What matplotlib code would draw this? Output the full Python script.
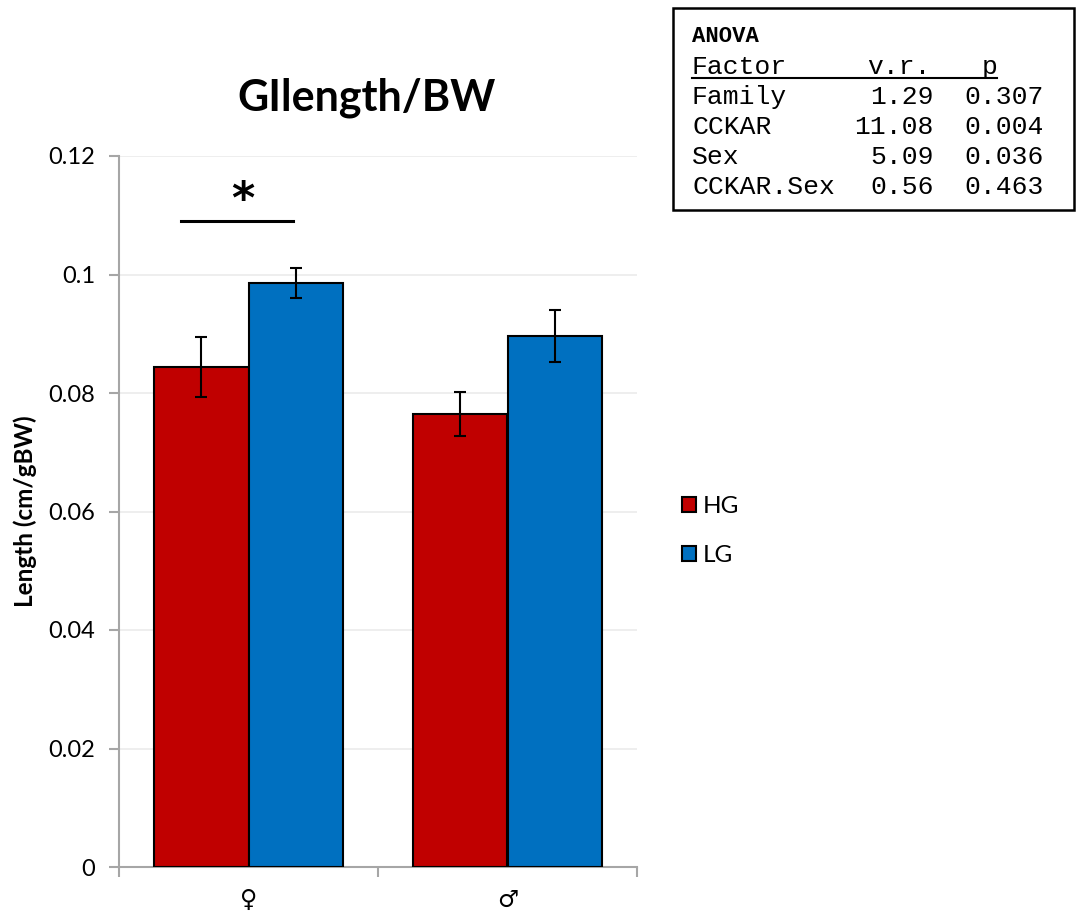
import matplotlib
matplotlib.use('Agg')
import matplotlib.pyplot as plt
from matplotlib.patches import Rectangle, Patch
import numpy as np

# Chart data
sexes = ['♀', '♂']
groups = ['HG', 'LG']
hg_mean = [0.0844, 0.0765]
hg_err = [0.0051, 0.0037]
lg_mean = [0.0986, 0.0896]
lg_err = [0.0025, 0.0044]
y_ticks = [0, 0.02, 0.04, 0.06, 0.08, 0.1, 0.12]
y_tick_labels = ['0', '0.02', '0.04', '0.06', '0.08', '0.1', '0.12']

# ANOVA table
anova_factors = ['Family', 'CCKAR', 'Sex', 'CCKAR.Sex']
anova_vr = ['1.29', '11.08', '5.09', '0.56']
anova_p = ['0.307', '0.004', '0.036', '0.463']

HG_COLOR = '#C00000'
LG_COLOR = '#0070C0'
W, H = 1076, 915
SANS = ['Lato', 'DejaVu Sans']
MONO = 'Liberation Mono'


def fx(px):
    return px / W


def fy(py):
    return 1 - py / H


fig = plt.figure(figsize=(W / 100, H / 100), dpi=100)
ax = fig.add_axes([fx(119), fy(867), fx(637) - fx(119), fy(156) - fy(867)])

x = np.arange(len(sexes)) + 0.5
bw = 0.365
err_kw = dict(ecolor='black', elinewidth=1.5, capsize=4, capthick=1.5)
ax.bar(x - bw / 2, hg_mean, bw, yerr=hg_err, color=HG_COLOR, edgecolor='black',
       linewidth=1.5, error_kw=err_kw, zorder=3, label=groups[0])
ax.bar(x + bw / 2, lg_mean, bw, yerr=lg_err, color=LG_COLOR, edgecolor='black',
       linewidth=1.5, error_kw=err_kw, zorder=3, label=groups[1])

ax.set_xlim(0, len(sexes))
ax.set_ylim(0, 0.12)
ax.set_yticks(y_ticks)
ax.set_yticklabels(y_tick_labels, family=SANS, fontsize=17)
ax.set_xticks(np.arange(len(sexes) + 1))
ax.set_xticklabels([])
ax.set_xticks(x, minor=True)
ax.set_xticklabels(sexes, minor=True, family=['DejaVu Sans'], fontsize=17)
ax.tick_params(axis='x', which='minor', length=0, pad=15)
ax.tick_params(axis='x', which='major', length=7, color='#a6a6a6', width=1.5)
ax.tick_params(axis='y', length=7, color='#a6a6a6', width=1.5, pad=10)

ax.grid(axis='y', color='#ebebeb', linewidth=1.2, zorder=0)
ax.set_axisbelow(True)
for s in ['top', 'right']:
    ax.spines[s].set_visible(False)
for s in ['left', 'bottom']:
    ax.spines[s].set_color('#a6a6a6')
    ax.spines[s].set_linewidth(1.5)

ax.set_ylabel('Length (cm/gBW)', family=SANS, fontsize=17.5, fontweight='bold', labelpad=8)
fig.text(fx(367), fy(98), 'GIlength/BW', family=SANS, fontsize=31, fontweight='bold',
         ha='center', va='center')

# significance marker over the female pair
ax.plot([0.239, 0.672], [0.109, 0.109], color='black', lw=2.2, zorder=4)
ax.text(0.479, 0.1125, '*', fontsize=32, fontweight='bold', ha='center', va='center',
        family='DejaVu Sans')

# legend
handles = [Patch(facecolor=HG_COLOR, edgecolor='black', linewidth=1.5, label=groups[0]),
           Patch(facecolor=LG_COLOR, edgecolor='black', linewidth=1.5, label=groups[1])]
fig.legend(handles=handles, loc='center left', bbox_to_anchor=(fx(672), fy(531)),
           frameon=False, prop={'family': SANS, 'size': 17.5}, handlelength=0.6,
           handleheight=0.6, handletextpad=0.25, labelspacing=1.15, borderaxespad=0)

# ANOVA box
fig.add_artist(Rectangle((fx(673), fy(210)), fx(1074) - fx(673), fy(8) - fy(210),
                         transform=fig.transFigure, fill=False, edgecolor='black', lw=1.8))
fig.text(fx(692), fy(36), 'ANOVA', family=MONO, fontsize=16, fontweight='bold', va='center')
fig.text(fx(692), fy(67), 'Factor', family=MONO, fontsize=19, va='center')
fig.text(fx(931), fy(67), 'v.r.', family=MONO, fontsize=19, va='center', ha='right')
fig.text(fx(998), fy(67), 'p', family=MONO, fontsize=19, va='center', ha='right')
fig.add_artist(plt.Line2D([fx(692), fx(997)], [fy(78), fy(78)], transform=fig.transFigure,
                          color='black', lw=1.5))
for i, (f, v, p) in enumerate(zip(anova_factors, anova_vr, anova_p)):
    yy = fy(97 + i * 30)
    fig.text(fx(692), yy, f, family=MONO, fontsize=19, va='center')
    fig.text(fx(934), yy, v, family=MONO, fontsize=19, va='center', ha='right')
    fig.text(fx(1044), yy, p, family=MONO, fontsize=19, va='center', ha='right')

fig.savefig('out.png', dpi=100)
